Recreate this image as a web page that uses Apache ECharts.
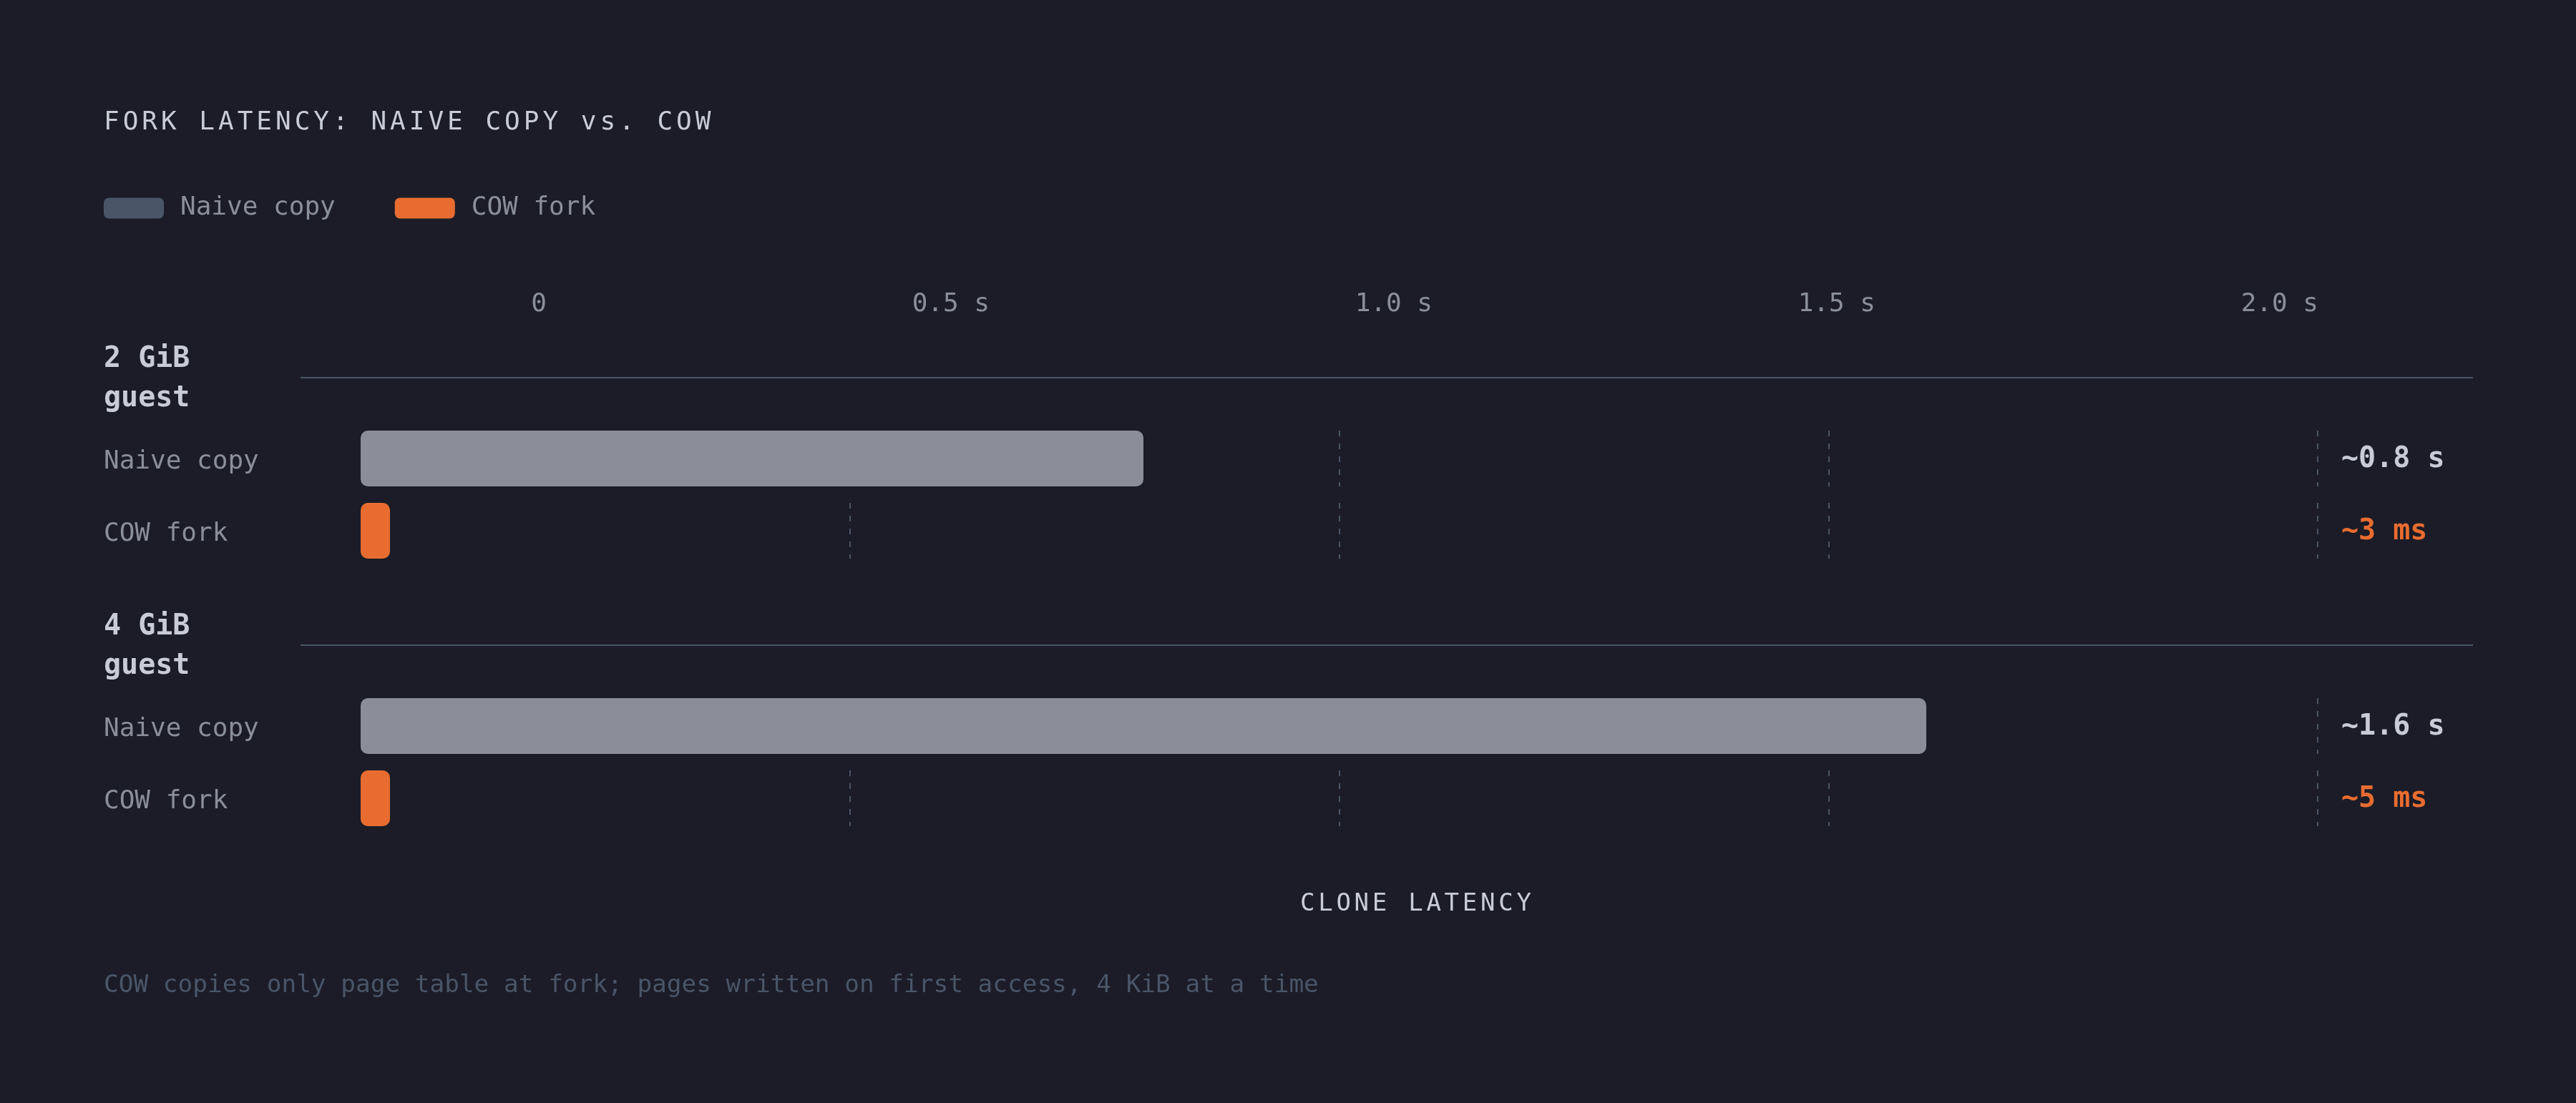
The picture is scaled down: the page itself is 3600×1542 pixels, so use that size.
<!DOCTYPE html>
<html>
<head>
    <meta charset="utf-8">
    <title>Fork latency</title>
    <script src="https://cdn.jsdelivr.net/npm/echarts@6.0.0/dist/echarts.min.js"></script>
    <style>
      html, body { margin: 0; padding: 0; background: #1b1c27; }
      #main { width: 3600px; height: 1542px; }
    </style>
</head>
<body>
    <div id="main"></div>
    <script type="text/javascript">
      // chart data
      var groupLabels = ['2 GiB\nguest', '4 GiB\nguest'];
      var seriesNames = ['Naive copy', 'COW fork'];
      var naiveCopySec = [0.8, 1.6];
      var cowForkSec = [0.003, 0.005];
      var naiveCopyText = ['~0.8 s', '~1.6 s'];
      var cowForkText = ['~3 ms', '~5 ms'];
      var tickLabels = ['0', '0.5 s', '1.0 s', '1.5 s', '2.0 s'];
      var titleText = 'FORK LATENCY: NAIVE COPY vs. COW';
      var axisTitle = 'CLONE LATENCY';
      var footnote = 'COW copies only page table at fork; pages written on first access, 4 KiB at a time';

      var FONT = '"DejaVu Sans Mono", "Liberation Mono", monospace';
      var BG = '#1b1c27';
      var TEXT = '#c9ccd6';
      var MUTED = '#8b8f9a';
      var SLATE = '#4a5568';
      var GREY_BAR = '#8b8e99';
      var ORANGE = '#e86c30';

      // layout (px)
      var plotLeft = 504, plotRight = 3239, barH = 78;
      var rowTops = [602, 703, 976, 1077];
      var ruleYs = [528, 902];

      var values = [naiveCopySec, cowForkSec];
      var valueText = [naiveCopyText, cowForkText];
      var barColors = [GREY_BAR, ORANGE];
      var valueColors = [TEXT, ORANGE];

      var grids = [], xAxes = [], yAxes = [], series = [];

      for (var g = 0; g < groupLabels.length; g++) {
        for (var s = 0; s < seriesNames.length; s++) {
          var idx = g * 2 + s;
          grids.push({
            left: plotLeft, right: 3600 - plotRight, top: rowTops[idx], height: barH,
            outerBoundsMode: 'none'
          });
          xAxes.push({
            gridIndex: idx, type: 'value', min: 0, max: 2, interval: 0.5,
            axisLabel: { show: false }, axisLine: { show: false }, axisTick: { show: false },
            splitLine: {
              show: true, showMinLine: false,
              lineStyle: { color: SLATE, width: 2, type: [8, 10] }
            }
          });
          // row label on the left (top-aligned small line box nudges text down a little)
          yAxes.push({
            gridIndex: idx, type: 'category', data: [seriesNames[s]],
            axisLine: { show: false }, axisTick: { show: false }, splitLine: { show: false },
            axisLabel: {
              color: MUTED, fontSize: 36, fontFamily: FONT,
              align: 'left', margin: plotLeft - 145,
              verticalAlign: 'top', lineHeight: 9
            }
          });
          // value text on the right
          yAxes.push({
            gridIndex: idx, type: 'category', position: 'right', data: [valueText[s][g]],
            axisLine: { show: false }, axisTick: { show: false }, splitLine: { show: false },
            axisLabel: {
              color: valueColors[s], fontSize: 40, fontWeight: 'bold', fontFamily: FONT,
              align: 'left', margin: 33,
              verticalAlign: 'top', lineHeight: 4
            }
          });
          series.push({
            type: 'bar', name: seriesNames[s],
            xAxisIndex: idx, yAxisIndex: yAxes.length - 2,
            data: [values[s][g]],
            barWidth: barH,
            barMinHeight: 41,
            silent: true,
            itemStyle: { color: barColors[s], borderRadius: 10 }
          });
        }
      }

      // tick label row at the top
      grids.push({ left: 764, right: 3600 - 3240, top: 426, height: 1, outerBoundsMode: 'none' });
      xAxes.push({
        gridIndex: 4, type: 'value', position: 'top', min: 0, max: 2, interval: 0.5,
        axisLine: { show: false }, axisTick: { show: false }, splitLine: { show: false },
        axisLabel: {
          color: MUTED, fontSize: 36, fontFamily: FONT,
          margin: 0, align: 'right', verticalAlign: 'middle',
          showMinLabel: true, showMaxLabel: true,
          formatter: function (v) { return tickLabels[Math.round(v / 0.5)]; }
        }
      });
      yAxes.push({ gridIndex: 4, type: 'value', show: false });

      // letter-spaced text, one glyph at a time
      function spaced(str, x0, y, size, adv, color) {
        var out = [];
        for (var i = 0; i < str.length; i++) {
          if (str[i] === ' ') continue;
          out.push({
            type: 'text', x: x0 + i * adv, y: y, silent: true,
            style: { text: str[i], fill: color, font: size + 'px ' + FONT, verticalAlign: 'middle' }
          });
        }
        return out;
      }

      var graphics = [];
      graphics = graphics.concat(spaced(titleText, 145, 172, 36, 26.67, TEXT));
      graphics = graphics.concat(spaced(axisTitle, 1817, 1264, 34, 25.2, TEXT));
      for (var k = 0; k < groupLabels.length; k++) {
        graphics.push({
          type: 'text', x: 145, y: ruleYs[k] + 2, silent: true,
          style: {
            text: groupLabels[k], fill: TEXT, font: 'bold 40px ' + FONT,
            lineHeight: 55, verticalAlign: 'middle'
          }
        });
        graphics.push({
          type: 'line', silent: true,
          shape: { x1: 420, y1: ruleYs[k], x2: 3456, y2: ruleYs[k] },
          style: { stroke: SLATE, lineWidth: 2 }
        });
      }
      graphics.push({
        type: 'text', x: 145, y: 1378, silent: true,
        style: { text: footnote, fill: SLATE, font: '34.4px ' + FONT, verticalAlign: 'middle' }
      });

      var myChart = echarts.init(document.getElementById('main'));
      var option = {
        backgroundColor: BG,
        animation: false,
        legend: {
          left: 145, top: 273, padding: 0,
          itemWidth: 84, itemHeight: 29, itemGap: 83,
          icon: 'roundRect', selectedMode: false,
          data: [
            { name: 'Naive copy', itemStyle: { color: SLATE } },
            { name: 'COW fork', itemStyle: { color: ORANGE } }
          ],
          textStyle: { color: MUTED, fontSize: 36, fontFamily: FONT, lineHeight: 29, padding: [0, 0, 0, 18] }
        },
        grid: grids,
        xAxis: xAxes,
        yAxis: yAxes,
        series: series,
        graphic: graphics
      };
      myChart.setOption(option);
    </script>
</body>
</html>
